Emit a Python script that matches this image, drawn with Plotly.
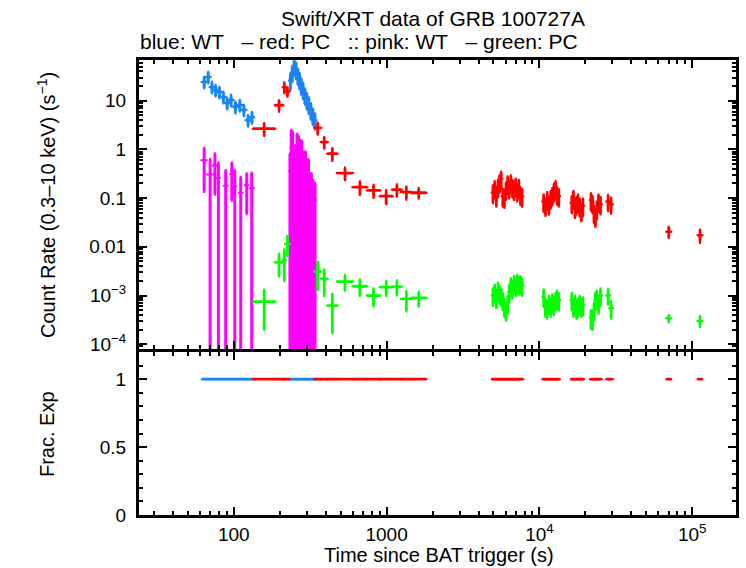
import numpy as np
import plotly.graph_objects as go

# ---------------- data ----------------
# Blue: WT mode count rate (bins given as contiguous edges per segment)
blue_edges = [
    [62, 66, 70, 74, 78, 83, 88, 93, 99, 106, 113, 120, 128, 135],
    [231, 238, 245, 252, 259, 266, 273, 280, 288, 296, 305, 314, 324, 334, 345],
]
blue_rate = [24.4, 30.8, 19.2, 16.7, 15.2, 12, 9, 10.4, 7.5, 8.2, 6.5, 4.0, 4.6,
             26, 38, 52, 44, 33, 27, 21, 17, 13, 10.5, 8.5, 6.5, 5.0, 4.0]
blue_err = [6.1, 7.7, 4.8, 4.2, 3.8, 3.0, 2.25, 2.6, 1.9, 2.05, 1.6, 1.0, 1.15,
            9.0, 13.0, 18.0, 15.5, 11.5, 9.5, 7.3, 6.0, 4.5, 3.7, 3.0, 2.3, 1.75, 1.4]

# Red: PC mode count rate
red_edges = [
    [134, 186, 210, 218, 231],
    [337, 372, 410, 475, 600, 745, 905, 1090, 1250, 1450, 1816],
    [4900, 5030, 5160, 5290, 5420, 5550, 5690, 5830, 5970, 6120, 6270, 6420, 6580,
     6740, 6900, 7070, 7240, 7420, 7600, 7800],
    [10500, 10800, 11100, 11400, 11700, 12000, 12300, 12600, 12900, 13200, 13550],
    [16100, 16500, 16900, 17300, 17700, 18100, 18600, 19000, 19500],
    [21500, 22000, 22500, 23000, 23500, 24000, 24700, 25500],
    [27500, 28800, 30100],
    [68000, 72500],
    [109000, 116000],
]
red_rate = [2.68, 8.1, 19, 15.5,
            2.78, 1.42, 0.82, 0.327, 0.168, 0.144, 0.110, 0.149, 0.133, 0.129,
            0.13, 0.16, 0.11, 0.17, 0.21, 0.25, 0.11, 0.1, 0.15, 0.2, 0.16, 0.21,
            0.17, 0.15, 0.18, 0.14, 0.17, 0.12, 0.11,
            0.085, 0.07, 0.095, 0.075, 0.10, 0.115, 0.14, 0.16, 0.12, 0.11,
            0.08, 0.1, 0.065, 0.075, 0.085, 0.07, 0.055, 0.07,
            0.09, 0.08, 0.05, 0.042, 0.06, 0.085, 0.075,
            0.085, 0.075,
            0.0205,
            0.0172]
red_err = [0.75, 2.0, 4.5, 3.2,
           0.73, 0.36, 0.23, 0.09, 0.05, 0.041, 0.034, 0.04, 0.038, 0.03,
           0.05, 0.06, 0.042, 0.065, 0.08, 0.095, 0.042, 0.036, 0.057, 0.076,
           0.06, 0.08, 0.065, 0.057, 0.068, 0.053, 0.065, 0.046, 0.042,
           0.032, 0.026, 0.036, 0.028, 0.038, 0.043, 0.053, 0.06, 0.045, 0.042,
           0.03, 0.038, 0.025, 0.028, 0.032, 0.027, 0.021, 0.027,
           0.034, 0.03, 0.019, 0.016, 0.023, 0.032, 0.028,
           0.03, 0.026,
           0.005,
           0.005]

# Green: PC (same bins as red)
green_rate = [7.5e-4, 4.8e-3, 5.4e-3, 0.0115,
              3.1e-3, 2.2e-3, 6.2e-4, 1.93e-3, 1.55e-3, 9.95e-4, 1.48e-3, 1.52e-3,
              8.5e-4, 8.9e-4,
              1.0e-3, 1.2e-3, 9e-4, 1.3e-3, 1.1e-3, 1.0e-3, 8e-4, 6e-4, 5e-4, 7e-4,
              1.2e-3, 1.6e-3, 1.4e-3, 1.8e-3, 1.6e-3, 1.9e-3, 1.7e-3, 1.8e-3, 1.6e-3,
              9.5e-4, 6e-4, 5.5e-4, 7e-4, 6e-4, 7.5e-4, 6.5e-4, 8e-4, 9e-4, 8e-4,
              8e-4, 6e-4, 7e-4, 5.5e-4, 6e-4, 7e-4, 6e-4, 6.5e-4,
              3.5e-4, 3.3e-4, 5e-4, 8e-4, 9e-4, 7e-4, 1.0e-3,
              1.0e-3, 5.5e-4,
              3.4e-4,
              3.0e-4]
green_err = [5.5e-4, 2.3e-3, 3.4e-3, 5e-3,
             1.8e-3, 1.2e-3, 4.5e-4, 6.5e-4, 5.6e-4, 3.9e-4, 4.9e-4, 5e-4, 3.7e-4,
             2.9e-4,
             3.8e-4, 4.6e-4, 3.4e-4, 4.9e-4, 4.2e-4, 3.8e-4, 3e-4, 2.3e-4, 1.9e-4,
             2.7e-4, 4.6e-4, 6.1e-4, 5.3e-4, 6.8e-4, 6.1e-4, 7.2e-4, 6.5e-4, 6.8e-4,
             6.1e-4,
             3.6e-4, 2.3e-4, 2.1e-4, 2.7e-4, 2.3e-4, 2.9e-4, 2.5e-4, 3e-4, 3.4e-4, 3e-4,
             3e-4, 2.3e-4, 2.7e-4, 2.1e-4, 2.3e-4, 2.7e-4, 2.3e-4, 2.5e-4,
             1.4e-4, 1.3e-4, 1.9e-4, 3e-4, 3.4e-4, 2.7e-4, 3.8e-4,
             3.5e-4, 2.1e-4,
             5.5e-5,
             7e-5]

# Pink: WT (separate bins)
pink_tstart = [61.5, 67, 73, 77.5, 86, 95, 99, 108, 118, 127,
               231, 235, 240, 245, 250, 256, 262, 268, 275, 282, 290, 299, 305, 311,
               318, 326, 335]
pink_tstop = [66.5, 73, 77.5, 81, 91, 99, 104, 114, 125, 135,
              235, 240, 245, 250, 256, 262, 268, 275, 282, 290, 299, 305, 311, 318,
              326, 335, 345]
pink_rate = [0.597, 0.306, 0.47, 0.263, 0.18, 0.31, 0.174, 0.129, 0.183, 0.16,
             0.36, 1.1, 1.0, 0.5, 0.55, 0.9, 0.85, 0.7, 0.65, 0.4, 0.4, 0.27, 0.28,
             0.14, 0.15, 0.1, 0.09]
pink_err = [0.46, 0.32, 0.35, 0.27, 0.19, 0.22, 0.2, 0.14, 0.135, 0.17,
            0.46, 1.37, 1.3, 0.62, 0.65, 1.15, 1.05, 0.84, 0.85, 0.48, 0.5, 0.33,
            0.34, 0.165, 0.17, 0.13, 0.11]

# Fractional exposure (all bins fully exposed)
blue_fracexp = [1.0] * len(blue_rate)
red_fracexp = [1.0] * len(red_rate)

# Axis ticks
x_tickvals = [100, 1000, 1e4, 1e5]
x_ticktext = ['100', '1000', '10<sup>4</sup>', '10<sup>5</sup>']
y_tickvals = [1e-4, 1e-3, 0.01, 0.1, 1, 10]
y_ticktext = ['10<sup>\u22124</sup>', '10<sup>\u22123</sup>', '0.01', '0.1', '1', '10']
f_tickvals = [0, 0.5, 1]
f_ticktext = ['0', '0.5', '1']

# ---------------- styling ----------------
BLUE = '#1a84f2'
RED = '#ff0000'
GREEN = '#00ff00'
PINK = '#ff00ff'
FONT = 'Liberation Sans, Arial, Helvetica, sans-serif'


def edges_to_bins(segs):
    s, e = [], []
    for seg in segs:
        s += seg[:-1]
        e += seg[1:]
    return np.array(s, float), np.array(e, float)


def err_trace(ts, te, y, yerr, color, xa, ya, th=2.6, yth=2.6, show_y=True):
    ts = np.asarray(ts, float)
    te = np.asarray(te, float)
    t = np.sqrt(ts * te)
    return go.Scatter(
        x=t, y=y, mode='markers', xaxis=xa, yaxis=ya,
        marker=dict(size=2, color=color, opacity=0),
        error_x=dict(type='data', symmetric=False, array=te - t, arrayminus=t - ts,
                     color=color, thickness=th, width=1),
        error_y=dict(type='data', array=yerr, color=color, thickness=yth, width=1,
                     visible=show_y),
        hoverinfo='skip', showlegend=False)


b_s, b_e = edges_to_bins(blue_edges)
r_s, r_e = edges_to_bins(red_edges)

fig = go.Figure()
# top panel
fig.add_trace(err_trace(b_s, b_e, blue_rate, blue_err, BLUE, 'x2', 'y2', th=3.0, yth=3.0))
fig.add_trace(err_trace(r_s, r_e, red_rate, red_err, RED, 'x2', 'y2', th=2.8, yth=2.8))
fig.add_trace(err_trace(pink_tstart, pink_tstop, pink_rate, pink_err, PINK, 'x2', 'y2',
                        th=2.0, yth=3.0))
fig.add_trace(err_trace(r_s, r_e, green_rate, green_err, GREEN, 'x2', 'y2', th=2.8, yth=2.8))
# bottom panel
fig.add_trace(err_trace(b_s, b_e, blue_fracexp, [0] * len(blue_fracexp), BLUE, 'x', 'y',
                        show_y=False))
fig.add_trace(err_trace(r_s, r_e, red_fracexp, [0] * len(red_fracexp), RED, 'x', 'y',
                        show_y=False))

x_minor = [m * 10 ** d for d in range(1, 6) for m in range(2, 10)]
y_minor = [m * 10 ** d for d in range(-5, 2) for m in range(2, 10)]
f_minor = [0.1, 0.2, 0.3, 0.4, 0.6, 0.7, 0.8, 0.9, 1.1, 1.2]

common = dict(showline=True, linewidth=3, linecolor='black', mirror='allticks',
              ticks='inside', ticklen=8, tickwidth=2, tickcolor='black',
              showgrid=False, zeroline=False,
              tickfont=dict(family=FONT, size=19, color='black'))
minor_common = dict(ticks='inside', ticklen=4, tickwidth=2, tickcolor='black',
                    showgrid=False)

xr = [1.3794, 5.2865]
fig.update_layout(
    width=746, height=568,
    margin=dict(l=139, r=7, t=60, b=53, pad=0),
    paper_bgcolor='white', plot_bgcolor='white',
    font=dict(family=FONT, size=19, color='black'),
    showlegend=False,
    xaxis=dict(domain=[0, 1], anchor='y', type='log', range=xr,
               tickmode='array', tickvals=x_tickvals, ticktext=x_ticktext,
               minor=dict(tickmode='array', tickvals=x_minor, **minor_common),
               ticklabelstandoff=0, **common),
    xaxis2=dict(domain=[0, 1], anchor='y2', type='log', range=xr, matches='x',
                tickmode='array', tickvals=x_tickvals, showticklabels=False,
                minor=dict(tickmode='array', tickvals=x_minor, **minor_common),
                **common),
    yaxis=dict(domain=[0, 0.35824], anchor='x', range=[0, 1.2],
               tickmode='array', tickvals=f_tickvals, ticktext=f_ticktext,
               minor=dict(tickmode='array', tickvals=f_minor, **minor_common),
               ticklabelstandoff=6, **common),
    yaxis2=dict(domain=[0.36484, 1], anchor='x2', type='log', range=[-4.099, 1.838],
                tickmode='array', tickvals=y_tickvals, ticktext=y_ticktext,
                minor=dict(tickmode='array', tickvals=y_minor, **minor_common),
                ticklabelstandoff=6, **common),
)

ann_font = dict(family=FONT, size=20, color='black')
title_font = dict(family=FONT, size=21, color='black')
fig.add_annotation(text='Swift/XRT data of GRB 100727A', xref='paper', yref='paper',
                   x=0.492, y=1.0923, xanchor='center', yanchor='middle',
                   showarrow=False, font=title_font)
fig.add_annotation(text='blue: WT\u00a0\u00a0\u00a0\u2013 red: PC\u00a0\u00a0\u00a0:: pink: WT\u00a0\u00a0\u00a0\u2013 green: PC',
                   xref='paper', yref='paper', x=-0.002, y=1.0396, xanchor='left',
                   yanchor='middle', showarrow=False, font=title_font)
fig.add_annotation(text='Count Rate (0.3\u201310 keV) (s<sup>\u22121</sup>)', xref='paper',
                   yref='paper', x=-0.155, y=0.6824, textangle=-90, xanchor='center',
                   yanchor='middle', showarrow=False, font=ann_font)
fig.add_annotation(text='Frac. Exp', xref='paper', yref='paper', x=-0.155, y=0.179,
                   textangle=-90, xanchor='center', yanchor='middle', showarrow=False,
                   font=ann_font)
fig.add_annotation(text='Time since BAT trigger (s)', xref='paper', yref='paper',
                   x=0.503, y=-0.0885, xanchor='center', yanchor='middle',
                   showarrow=False, font=ann_font)

fig.write_html('out.html')
